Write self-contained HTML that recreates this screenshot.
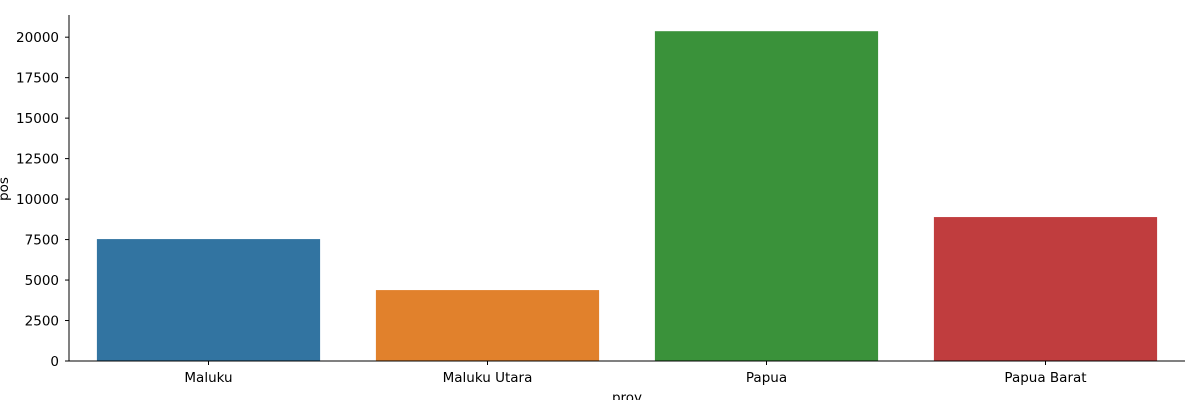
<!DOCTYPE html>
<html><head><meta charset="utf-8"><style>
body{margin:0;background:#fff;}
svg text{font-family:"DejaVu Sans","Liberation Sans",sans-serif;font-size:13.5px;fill:#000;}
</style></head><body>
<svg width="1200" height="400" id="chart"></svg>
<script>
const categories=["Maluku","Maluku Utara","Papua","Papua Barat"];
const values=[7530,4380,20370,8890];
const colors=["#3274a1","#e1812c","#3a923a","#c03d3e"];
const yTicks=[0,2500,5000,7500,10000,12500,15000,17500,20000];
const svg=document.getElementById('chart');
const NS='http://www.w3.org/2000/svg';
const L=69,R=1185,T=15,B=361,yMax=21370;
const y=v=>B-(v/yMax)*(B-T);
const band=(R-L)/categories.length;
const x=i=>L+band*i;
function mk(t,a,p){const e=document.createElementNS(NS,t);for(const k in a)e.setAttribute(k,a[k]);(p||svg).appendChild(e);return e;}
categories.forEach((c,i)=>{
 const r=mk('rect',{x:x(i)+band*0.1,y:y(values[i]),width:band*0.8,height:B-y(values[i]),fill:colors[i]});
 
 
 mk('line',{x1:x(i)+band/2,x2:x(i)+band/2,y1:B,y2:B+4,stroke:'#000'});
 const t=mk('text',{x:x(i)+band/2,y:B+21,'text-anchor':'middle'});t.textContent=c;
 
 
});
yTicks.forEach(v=>{
 mk('line',{x1:L-4,x2:L,y1:y(v),y2:y(v),stroke:'#000'});
 const t=mk('text',{x:L-10,y:y(v)+5,'text-anchor':'end'});t.textContent=v;
 
 
});
const ax=mk('path',{d:`M${L},${T}V${B}H${R}`,fill:'none',stroke:'#000','stroke-width':1});


const xt=mk('text',{x:(L+R)/2,y:B+41,'text-anchor':'middle'});xt.textContent='prov';


const yt=mk('text',{x:8,y:189,'text-anchor':'middle',transform:'rotate(-90 8 189)'});yt.textContent='pos';


</script>
</body></html>
